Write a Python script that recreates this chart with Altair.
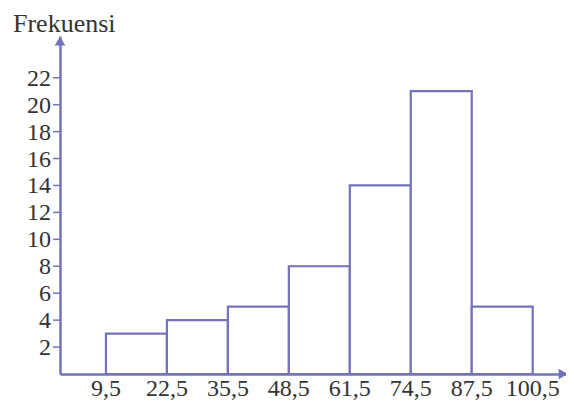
import altair as alt
import pandas as pd

lower = [9.5, 22.5, 35.5, 48.5, 61.5, 74.5, 87.5]
upper = [22.5, 35.5, 48.5, 61.5, 74.5, 87.5, 100.5]
freq = [3, 4, 5, 8, 14, 21, 5]
x_ticks = [9.5, 22.5, 35.5, 48.5, 61.5, 74.5, 87.5, 100.5]
x_labels = ["9,5", "22,5", "35,5", "48,5", "61,5", "74,5", "87,5", "100,5"]
y_ticks = [2, 4, 6, 8, 10, 12, 14, 16, 18, 20, 22]

XMIN, XMAX = -0.3, 107.6
YMIN, YMAX = 0, 25.1
PURPLE = "#7472bb"
FONT = "Liberation Serif"
W, H = 506, 338

df = pd.DataFrame({"lo": lower, "hi": upper, "f": freq})
dx = pd.DataFrame({"v": x_ticks, "lab": x_labels})
dy = pd.DataFrame({"v": y_ticks})

xs = alt.Scale(domain=[XMIN, XMAX], nice=False, zero=False)
ys = alt.Scale(domain=[YMIN, YMAX], nice=False)

bars = alt.Chart(df).mark_rect(fill="white", stroke=PURPLE, strokeWidth=2.2).encode(
    x=alt.X("lo:Q", scale=xs, axis=alt.Axis(
        title=None, grid=False, ticks=False, labels=False,
        domainColor=PURPLE, domainWidth=2.5, zindex=1)),
    x2="hi:Q",
    y=alt.Y("f:Q", scale=ys, axis=alt.Axis(
        title=None, grid=False, ticks=False, labels=False,
        domainColor=PURPLE, domainWidth=2.5, zindex=1)),
    y2=alt.datum(0),
)

y_tick_marks = alt.Chart(dy).mark_rule(color=PURPLE, strokeWidth=1.5).encode(
    x=alt.value(-7), x2=alt.value(0), y=alt.Y("v:Q", scale=ys)
)
y_tick_text = alt.Chart(dy).mark_text(
    font=FONT, fontSize=24, color="#333", align="right", baseline="middle", dy=1
).encode(x=alt.value(-9), y=alt.Y("v:Q", scale=ys), text="v:Q")

x_tick_text = alt.Chart(dx).mark_text(
    font=FONT, fontSize=24, color="#333", align="center", baseline="alphabetic"
).encode(x=alt.X("v:Q", scale=xs), y=alt.value(H + 22), text="lab:N")

arrow_up = alt.Chart(pd.DataFrame({"x": [XMIN], "y": [24.73]})).mark_point(
    shape="triangle-up", filled=True, color=PURPLE, size=110, opacity=1
).encode(x=alt.X("x:Q", scale=xs), y=alt.Y("y:Q", scale=ys))

arrow_right = alt.Chart(pd.DataFrame({"x": [XMAX - 0.6], "y": [YMIN]})).mark_point(
    shape="triangle-right", filled=True, color=PURPLE, size=110, opacity=1
).encode(x=alt.X("x:Q", scale=xs), y=alt.Y("y:Q", scale=ys))

title = alt.Chart(pd.DataFrame({"t": ["Frekuensi"]})).mark_text(
    font=FONT, fontSize=26, color="#333", align="left", baseline="alphabetic"
).encode(text="t:N", x=alt.value(-47), y=alt.value(-4))

chart = alt.layer(
    bars, y_tick_marks, y_tick_text, x_tick_text, arrow_up, arrow_right, title
).properties(
    width=W, height=H,
    autosize=alt.AutoSizeParams(type="none"),
    padding={"left": 52, "top": 28, "right": 0, "bottom": 26},
).configure_view(stroke=None)

chart.save("out.html", embed_options={"renderer": "svg", "actions": False})
